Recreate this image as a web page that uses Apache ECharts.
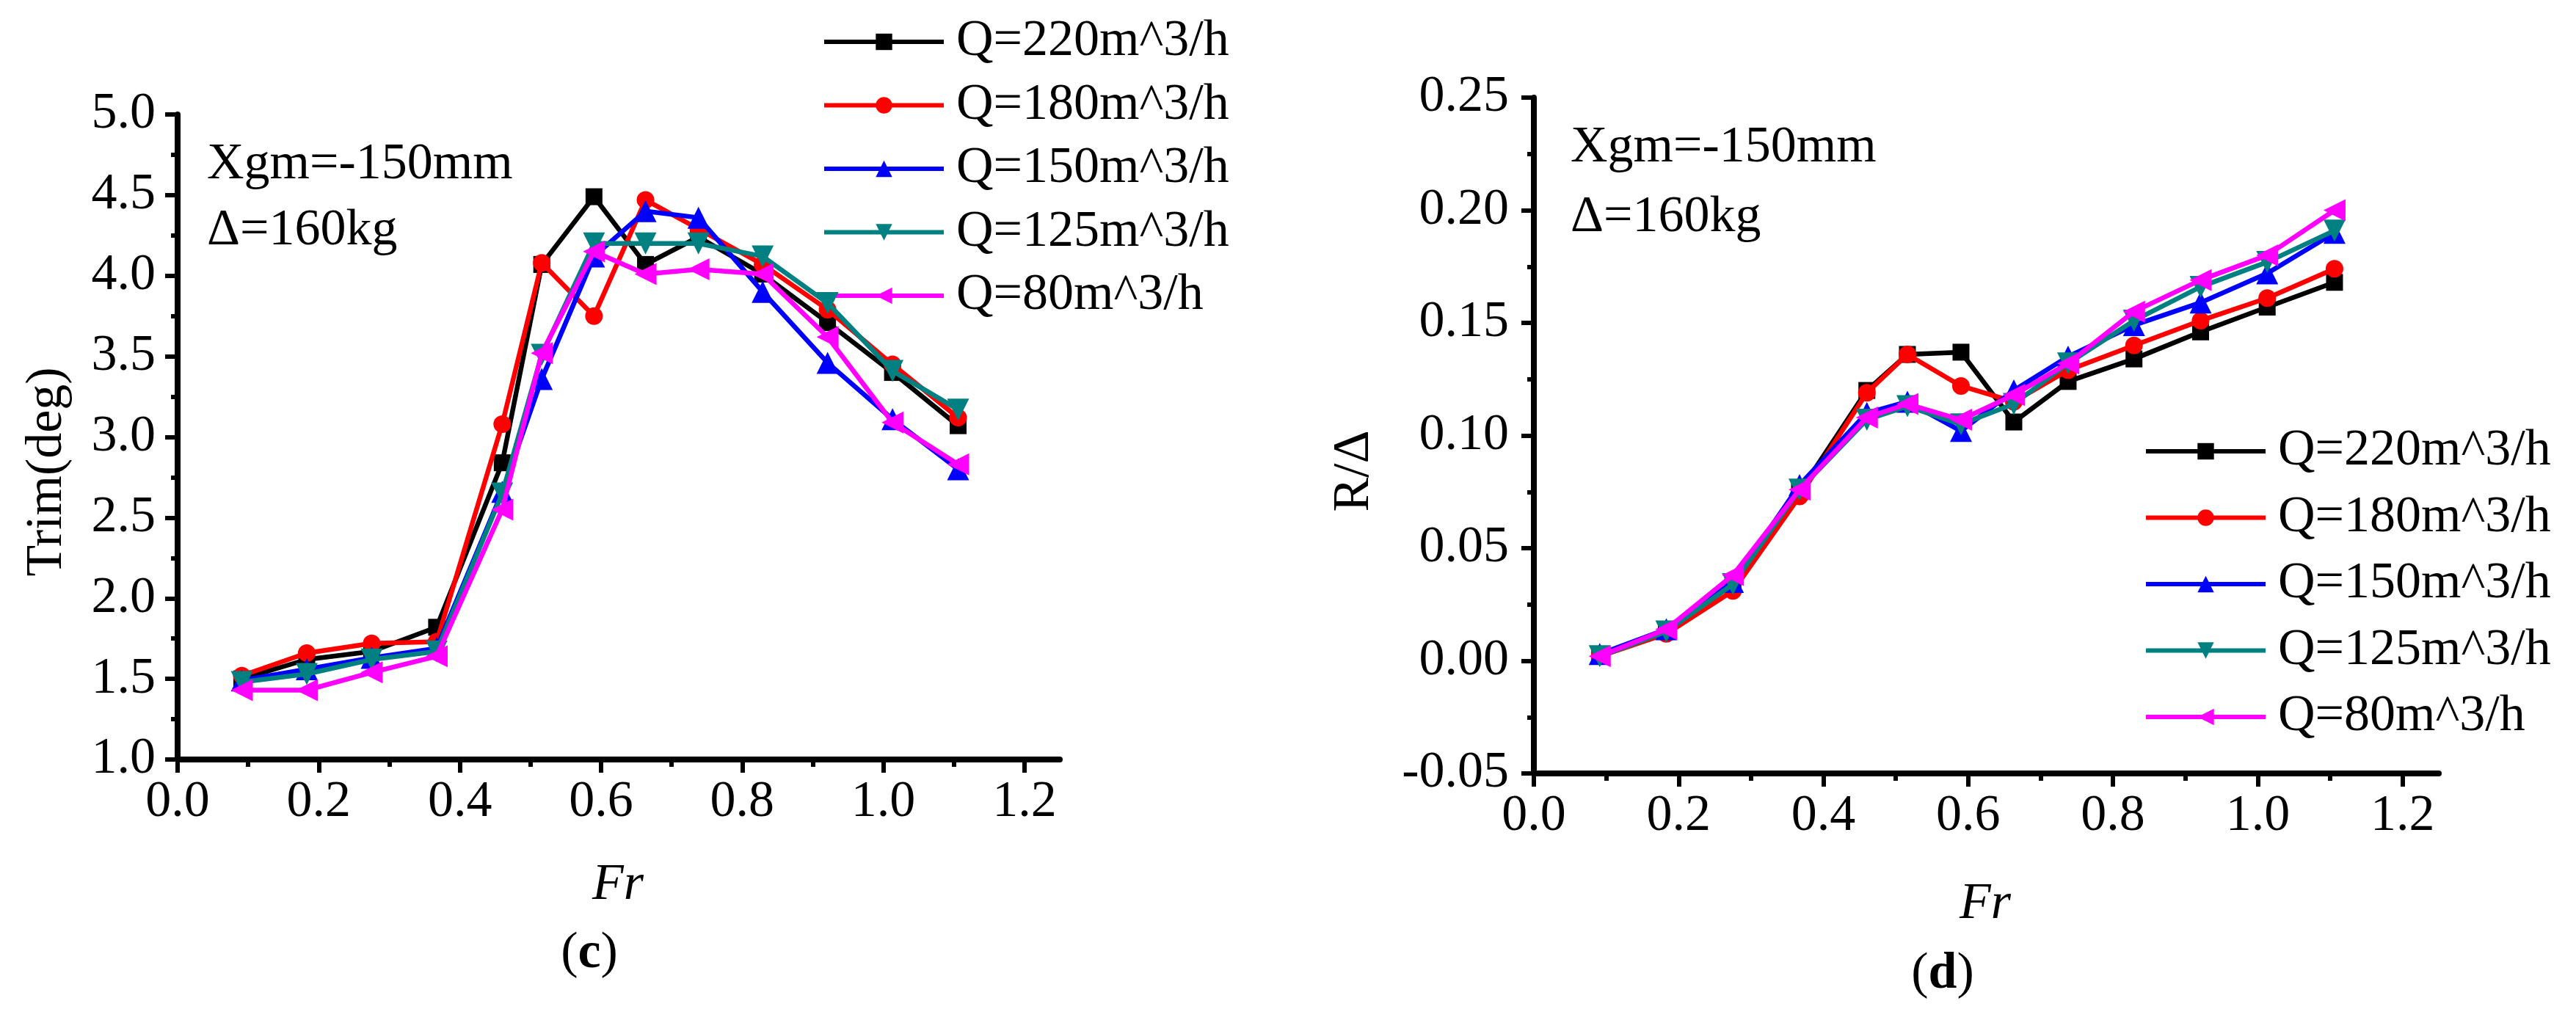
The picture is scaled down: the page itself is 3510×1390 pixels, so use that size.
<!DOCTYPE html>
<html>
<head>
<meta charset="utf-8">
<script src="https://cdn.jsdelivr.net/npm/echarts@6/dist/echarts.min.js"></script>
<style>
html,body{margin:0;padding:0;background:#fff;}
#chart{width:3510px;height:1390px;}
</style>
</head>
<body>
<div id="chart"></div>
<script>
// ---------- data ----------
const seriesNames = ['Q=220m^3/h', 'Q=180m^3/h', 'Q=150m^3/h', 'Q=125m^3/h', 'Q=80m^3/h'];
const fr = [0.091, 0.183, 0.275, 0.367, 0.460, 0.516, 0.590, 0.663, 0.738, 0.829, 0.921, 1.013, 1.106];

// (c) Trim (deg)
const trim220 = [1.50, 1.62, 1.67, 1.82, 2.84, 4.07, 4.49, 4.07, 4.24, 4.01, 3.71, 3.40, 3.07];
const trim180 = [1.52, 1.66, 1.72, 1.73, 3.08, 4.08, 3.75, 4.47, 4.29, 4.07, 3.79, 3.45, 3.12];
const trim150 = [1.49, 1.56, 1.63, 1.69, 2.66, 3.36, 4.12, 4.40, 4.36, 3.90, 3.46, 3.11, 2.80];
const trim125 = [1.48, 1.53, 1.62, 1.67, 2.65, 3.51, 4.20, 4.20, 4.20, 4.12, 3.83, 3.41, 3.17];
const trim80  = [1.43, 1.43, 1.54, 1.64, 2.55, 3.52, 4.15, 4.01, 4.04, 4.01, 3.62, 3.09, 2.83];

// (d) R/Δ
const r220 = [0.002, 0.013, 0.034, 0.075, 0.120, 0.136, 0.137, 0.106, 0.124, 0.134, 0.146, 0.157, 0.168];
const r180 = [0.002, 0.012, 0.031, 0.073, 0.119, 0.136, 0.122, 0.115, 0.129, 0.140, 0.151, 0.161, 0.174];
const r150 = [0.003, 0.014, 0.035, 0.078, 0.110, 0.115, 0.102, 0.120, 0.135, 0.149, 0.159, 0.172, 0.190];
const r125 = [0.002, 0.013, 0.034, 0.076, 0.107, 0.113, 0.105, 0.114, 0.132, 0.151, 0.166, 0.177, 0.191];
const r80  = [0.002, 0.014, 0.038, 0.076, 0.108, 0.114, 0.107, 0.118, 0.132, 0.155, 0.169, 0.180, 0.200];

// ticks
const xMajorTicks = [0, 0.2, 0.4, 0.6, 0.8, 1.0, 1.2];
const xMinorTicks = [0.1, 0.3, 0.5, 0.7, 0.9, 1.1];

// ---------- styles ----------
const FONT = 'Liberation Serif';
const colors = ['#000000', '#ff0000', '#0000ff', '#008080', '#ff00ff'];
const symbols = ['rect', 'circle', 'triangle', 'path://M0,0 L10,0 L5,10 Z', 'path://M10,0 L10,10 L0,5 Z'];
const symSizes = [23, 24, 30, 30, 30];

function pairs(ys) { return fr.map((x, i) => [x, ys[i]]); }

function makeSeries(dataList, gridIdx) {
  return dataList.map((ys, i) => ({
    name: seriesNames[i],
    type: 'line',
    xAxisIndex: gridIdx * 2,
    yAxisIndex: gridIdx,
    data: pairs(ys),
    symbol: symbols[i],
    symbolSize: symSizes[i],
    showAllSymbol: true,
    lineStyle: { color: colors[i], width: 6.5 },
    itemStyle: { color: colors[i] },
    z: 10 + i,
    animation: false
  }));
}

function xAxes(gridIdx) {
  return [
    {
      type: 'value', gridIndex: gridIdx, min: 0, max: 1.25, position: 'bottom',
      axisLine: { onZero: false, lineStyle: { color: '#000', width: 8 } },
      axisTick: { customValues: xMajorTicks, length: 18, lineStyle: { width: 6, color: '#000' } },
      axisLabel: { customValues: xMajorTicks, formatter: v => v.toFixed(1), fontFamily: FONT, fontSize: 70, color: '#000', margin: 24 },
      splitLine: { show: false }
    },
    {
      type: 'value', gridIndex: gridIdx, min: 0, max: 1.25, position: 'bottom',
      axisLine: { show: false, onZero: false },
      axisTick: { show: true, customValues: xMinorTicks, length: 10, lineStyle: { width: 6, color: '#000' } },
      axisLabel: { show: false },
      splitLine: { show: false }
    }
  ];
}

function yAxis(gridIdx, min, max, interval, digits, margin) {
  return {
    type: 'value', gridIndex: gridIdx, min: min, max: max, interval: interval, position: 'left',
    axisLine: { show: true, onZero: false, lineStyle: { color: '#000', width: 8 } },
    axisTick: { show: true, length: 17, lineStyle: { width: 6, color: '#000' } },
    minorTick: { show: true, splitNumber: 2, length: 9, lineStyle: { width: 6, color: '#000' } },
    axisLabel: { formatter: v => v.toFixed(digits), fontFamily: FONT, fontSize: 70, color: '#000', margin: margin },
    splitLine: { show: false }
  };
}

const legendText = { fontFamily: FONT, fontSize: 70, color: '#000', lineHeight: 70, padding: [0, 0, 0, 12] };

function txt(x, y, text, extra) {
  return {
    type: 'text', x: x, y: y,
    style: Object.assign({ text: text, fontFamily: FONT, fontSize: 70, fill: '#000', align: 'left', verticalAlign: 'middle' }, extra || {})
  };
}

const option = {
  backgroundColor: '#ffffff',
  animation: false,
  grid: [
    { left: 242, right: 3510 - 1444, top: 156, bottom: 1390 - 1035, containLabel: false },
    { left: 2090, right: 3510 - 3323, top: 133, bottom: 1390 - 1054, containLabel: false }
  ],
  xAxis: xAxes(0).concat(xAxes(1)),
  yAxis: [
    yAxis(0, 1.0, 5.0, 0.5, 1, 30),
    yAxis(1, -0.05, 0.25, 0.05, 2, 34)
  ],
  legend: [
    {
      data: seriesNames, orient: 'vertical', left: 1115, top: 17,
      itemWidth: 163, itemHeight: 28, itemGap: 16.5,
      lineStyle: { width: 6 },
      textStyle: legendText, selectedMode: false
    },
    {
      data: seriesNames, orient: 'vertical', left: 2916, top: 575,
      itemWidth: 163, itemHeight: 28, itemGap: 20.5,
      lineStyle: { width: 6 },
      textStyle: legendText, selectedMode: false
    }
  ],
  graphic: [
    txt(282, 225, 'Xgm=-150mm'),
    txt(282, 315, 'Δ=160kg'),
    txt(2140, 202, 'Xgm=-150mm'),
    txt(2140, 297, 'Δ=160kg'),
    Object.assign(txt(65, 643, 'Trim(deg)', { align: 'center' }), { rotation: Math.PI / 2 }),
    Object.assign(txt(1846, 642, 'R/Δ', { align: 'center' }), { rotation: Math.PI / 2 }),
    txt(842, 1207, 'Fr', { align: 'center', fontStyle: 'italic' }),
    txt(2705, 1233, 'Fr', { align: 'center', fontStyle: 'italic' }),
    { type: 'text', x: 803, y: 1300,
      style: { text: '{n|(}{b|c}{n|)}', align: 'center', verticalAlign: 'middle',
        rich: { n: { fontFamily: FONT, fontSize: 70, fill: '#000' }, b: { fontFamily: FONT, fontSize: 70, fontWeight: 'bold', fill: '#000' } } } },
    { type: 'text', x: 2647, y: 1328,
      style: { text: '{n|(}{b|d}{n|)}', align: 'center', verticalAlign: 'middle',
        rich: { n: { fontFamily: FONT, fontSize: 70, fill: '#000' }, b: { fontFamily: FONT, fontSize: 70, fontWeight: 'bold', fill: '#000' } } } }
  ],
  series: makeSeries([trim220, trim180, trim150, trim125, trim80], 0)
    .concat(makeSeries([r220, r180, r150, r125, r80], 1))
};

const chart = echarts.init(document.getElementById('chart'), null, { renderer: 'canvas' });
chart.setOption(option);
</script>
</body>
</html>
